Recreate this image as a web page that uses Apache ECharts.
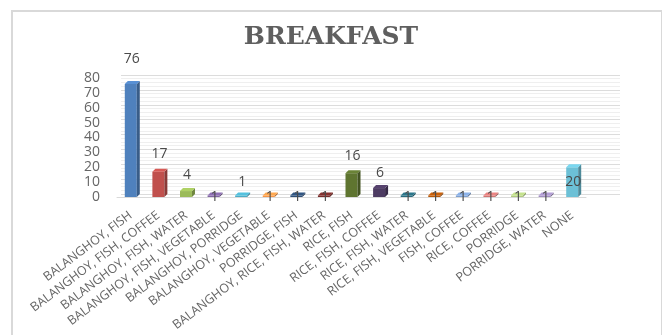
<!DOCTYPE html>
<html>
<head>
<meta charset="utf-8">
<script src="https://cdn.jsdelivr.net/npm/echarts@6/dist/echarts.min.js"></script>
<style>
  html, body { margin: 0; padding: 0; background: #ffffff; }
  #frame { position: absolute; left: 11px; top: 10px; width: 648px; height: 330px;
           border-left: 2px solid #d9d9d9; border-top: 2px solid #d9d9d9; border-right: 2px solid #d9d9d9; }
  #chart { width: 662px; height: 335px; }
</style>
</head>
<body>
<div id="frame"></div>
<div id="chart" style="position:absolute;left:0;top:0;"></div>
<script>
// Breakfast combinations and how many respondents named each one
const categories = [
  'BALANGHOY, FISH', 'BALANGHOY, FISH, COFFEE', 'BALANGHOY, FISH, WATER',
  'BALANGHOY, FISH, VEGETABLE', 'BALANGHOY, PORRIDGE', 'BALANGHOY, VEGETABLE',
  'PORRIDGE, FISH', 'BALANGHOY, RICE, FISH, WATER', 'RICE, FISH',
  'RICE, FISH, COFFEE', 'RICE, FISH, WATER', 'RICE, FISH, VEGETABLE',
  'FISH, COFFEE', 'RICE, COFFEE', 'PORRIDGE', 'PORRIDGE, WATER', 'NONE'
];
const counts = [76, 17, 4, 1, 1, 1, 1, 1, 16, 6, 1, 1, 1, 1, 1, 1, 20];
const yTicks = [0, 10, 20, 30, 40, 50, 60, 70, 80];

// Office-style palette, one colour per bar
const barColors = [
  '#4F81BD', '#C0504D', '#9BBB59', '#8064A2', '#4BACC6', '#F79646',
  '#2C4D75', '#772C2A', '#5F7530', '#4D3B62', '#276A7C', '#B65708',
  '#7C9FD0', '#D27573', '#B0CB7E', '#A08DBF', '#6CC0D6'
];
// vertical placement of each value label relative to the bar top (px, + is up)
const labelLift = [25, 18, 16, -2, 13, -2, -2, -2, 17, 15, -2, -2, -2, -2, -2, -2, -15];

function shade(hex, f) {
  const n = parseInt(hex.slice(1), 16);
  const r = Math.min(255, Math.round(((n >> 16) & 255) * f));
  const g = Math.min(255, Math.round(((n >> 8) & 255) * f));
  const b = Math.min(255, Math.round((n & 255) * f));
  return 'rgb(' + r + ',' + g + ',' + b + ')';
}

const chart = echarts.init(document.getElementById('chart'), null, { renderer: 'canvas' });
const textColor = '#666666';

chart.setOption({
  animation: false,
  title: {
    text: 'BREAKFAST', left: 'center', top: 20,
    textStyle: { fontFamily: 'DejaVu Serif', fontWeight: 'bold', fontSize: 25, color: '#5f5f5f' }
  },
  grid: [
    // back wall carrying the gridlines
    { left: 121, right: 42, top: 75, bottom: 141 },
    // main plotting area
    { left: 117, right: 76, top: 78, bottom: 138 }
  ],
  xAxis: [
    { gridIndex: 0, type: 'category', data: categories, show: false },
    {
      gridIndex: 1, type: 'category', data: categories,
      axisLine: { show: true, lineStyle: { color: '#d9d9d9' } },
      axisTick: { show: false },
      axisLabel: {
        interval: 0, rotate: 37, margin: 17,
        fontFamily: 'Open Sans', fontSize: 12.5, color: textColor
      }
    }
  ],
  yAxis: [
    {
      gridIndex: 0, type: 'value', min: 0, max: 80, interval: 10,
      axisLabel: { show: false }, axisLine: { show: false }, axisTick: { show: false },
      splitLine: { lineStyle: { color: '#dcdcdc', width: 1 } },
      minorTick: { show: false, splitNumber: 4 },
      minorSplitLine: { show: true, lineStyle: { color: '#efefef', width: 1 } }
    },
    {
      gridIndex: 1, type: 'value', min: 0, max: 80, interval: 10,
      axisLine: { show: false }, axisTick: { show: false },
      splitLine: { show: false },
      axisLabel: { margin: 17, fontFamily: 'Open Sans', fontSize: 14, color: textColor },
      data: yTicks
    }
  ],
  series: [{
    type: 'custom',
    xAxisIndex: 1, yAxisIndex: 1,
    data: counts.map((v, i) => [i, v]),
    renderItem: function (params, api) {
      const i = api.value(0);
      const v = api.value(1);
      const top = api.coord([i, v]);
      const base = api.coord([i, 0]);
      const w = 12, d = 3;
      const xl = top[0] - w / 2, xr = top[0] + w / 2;
      const yt = Math.min(top[1], base[1] - 1.5), yb = base[1];
      const c = barColors[i];
      return {
        type: 'group',
        children: [
          { type: 'rect', shape: { x: xl, y: yt, width: w, height: yb - yt },
            style: { fill: c } },
          { type: 'polygon', shape: { points: [[xr, yt], [xr + d, yt - d], [xr + d, yb - d], [xr, yb]] },
            style: { fill: shade(c, 0.72) } },
          { type: 'polygon', shape: { points: [[xl, yt], [xl + d, yt - d], [xr + d, yt - d], [xr, yt]] },
            style: { fill: shade(c, 1.12) } },
          { type: 'text', style: {
              text: String(v), x: top[0] + 1, y: yt - labelLift[i],
              align: 'center', verticalAlign: 'middle',
              font: '14px "Open Sans"', fill: '#4a4a4a' } }
        ]
      };
    }
  }]
});
</script>
</body>
</html>
